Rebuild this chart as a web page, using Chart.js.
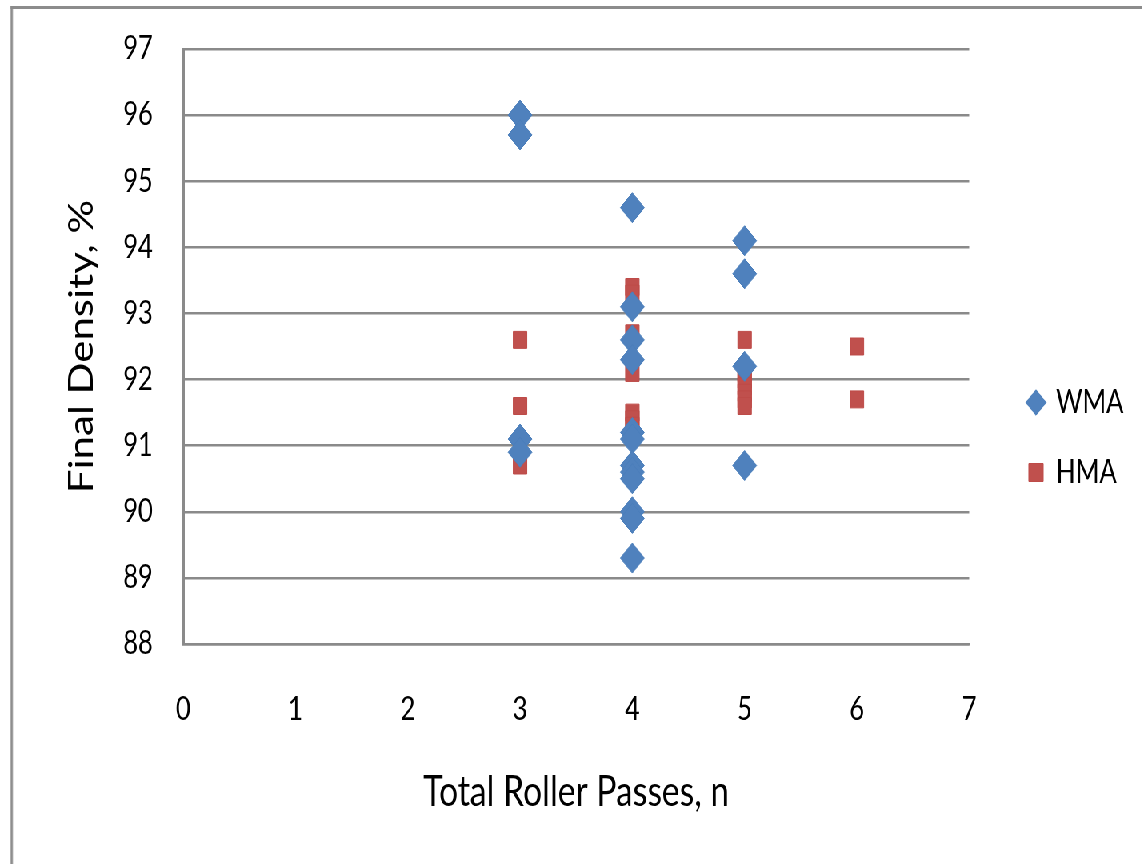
<!DOCTYPE html>
<html>
<head>
<meta charset="utf-8">
<script src="https://cdn.jsdelivr.net/npm/chart.js@4.4.1/dist/chart.umd.min.js"></script>
<style>
  html, body { margin: 0; padding: 0; background: #fff; overflow: hidden; }
  /* chart is laid out wide, then narrowed horizontally */
  #stage { position: absolute; left: 0; top: 0; width: 1428px; height: 864px;
           transform: scaleX(0.8); transform-origin: 0 0; }
  #frame { position: absolute; left: 13px; top: 6px; width: 1600px; height: 1000px;
           border-left: 3.5px solid #8c8c8c; border-top: 3px solid #8c8c8c; box-sizing: border-box; }
  #chart { position: absolute; left: 0; top: 0; }
</style>
</head>
<body>
<div id="stage">
  <div id="frame"></div>
  <canvas id="chart"></canvas>
</div>
<script>
// Final density vs. total roller passes
const wmaPasses  = [3, 3, 3, 3,
                    4, 4, 4, 4, 4, 4, 4, 4, 4, 4, 4, 4,
                    5, 5, 5, 5];
const wmaDensity = [96.0, 95.7, 91.1, 90.9,
                    94.6, 93.1, 92.6, 92.3, 91.2, 91.1, 90.7, 90.6, 90.5, 90.0, 89.9, 89.3,
                    94.1, 93.6, 92.2, 90.7];

const hmaPasses  = [3, 3, 3,
                    4, 4, 4, 4, 4, 4, 4,
                    5, 5, 5, 5, 5, 5, 5,
                    6, 6];
const hmaDensity = [92.6, 91.6, 90.7,
                    93.4, 93.3, 92.7, 92.1, 91.5, 91.4, 91.3,
                    92.6, 92.1, 92.0, 91.9, 91.8, 91.7, 91.6,
                    92.5, 91.7];

const xTicks = [0, 1, 2, 3, 4, 5, 6, 7];
const yTicks = [88, 89, 90, 91, 92, 93, 94, 95, 96, 97];

const toPoints = (xs, ys) => xs.map((x, i) => ({ x: x, y: ys[i] }));

const FONT = 'Lato, "Open Sans", sans-serif';
const GRID = '#8a8a8a';

// nudges the legend block away from the plot area
const legendShift = {
  id: 'legendShift',
  afterLayout(chart) {
    const l = chart.legend;
    if (!l) return;
    l.left += 36.5; l.right += 36.5;
    l.top -= 19; l.bottom -= 19;
  }
};

new Chart(document.getElementById('chart'), {
  type: 'scatter',
  data: {
    datasets: [
      {
        label: 'WMA',
        data: toPoints(wmaPasses, wmaDensity),
        pointStyle: 'rectRot',
        pointRadius: 15,
        pointHoverRadius: 15,
        backgroundColor: '#4F81BD',
        borderColor: '#4A7EBB',
        borderWidth: 1
      },
      {
        label: 'HMA',
        data: toPoints(hmaPasses, hmaDensity),
        pointStyle: 'rect',
        pointRadius: 12,
        pointHoverRadius: 12,
        backgroundColor: '#C0504D',
        borderColor: '#BE4B48',
        borderWidth: 1
      }
    ]
  },
  plugins: [legendShift],
  options: {
    responsive: true,
    maintainAspectRatio: false,
    animation: false,
    events: [],
    layout: { padding: { left: 20, right: 50, top: 49, bottom: 0 } },
    plugins: {
      tooltip: { enabled: false },
      legend: {
        position: 'right',
        labels: {
          usePointStyle: true,
          boxWidth: 18,
          boxHeight: 18,
          padding: 38,
          color: '#000',
          font: { family: FONT, size: 32 }
        }
      }
    },
    scales: {
      x: {
        type: 'linear',
        min: xTicks[0],
        max: xTicks[xTicks.length - 1],
        afterBuildTicks(scale) { scale.ticks = xTicks.map(v => ({ value: v })); },
        afterFit(scale) { scale.height = 864 - 644; },
        grid: { display: false, drawTicks: false },
        border: { display: true, color: GRID, width: 2.5 },
        ticks: { color: '#000', padding: 46, font: { family: FONT, size: 32 } },
        title: {
          display: true,
          text: 'Total Roller Passes, n',
          color: '#000',
          font: { family: FONT, size: 42 },
          padding: { top: 0, bottom: 46 }
        }
      },
      y: {
        type: 'linear',
        min: yTicks[0],
        max: yTicks[yTicks.length - 1],
        afterBuildTicks(scale) { scale.ticks = yTicks.map(v => ({ value: v })); },
        afterFit(scale) {
          scale.width = 229 - 20;
          scale.paddingTop = 0;
        },
        grid: { color: GRID, lineWidth: 2.5, drawTicks: false },
        border: { display: true, color: GRID, width: 3 },
        ticks: { color: '#000', padding: 38, font: { family: FONT, size: 32 } },
        title: {
          display: true,
          text: 'Final Density, %',
          color: '#000',
          font: { family: FONT, size: 42 },
          padding: { top: 57, bottom: 0 }
        }
      }
    }
  }
});
</script>
</body>
</html>
